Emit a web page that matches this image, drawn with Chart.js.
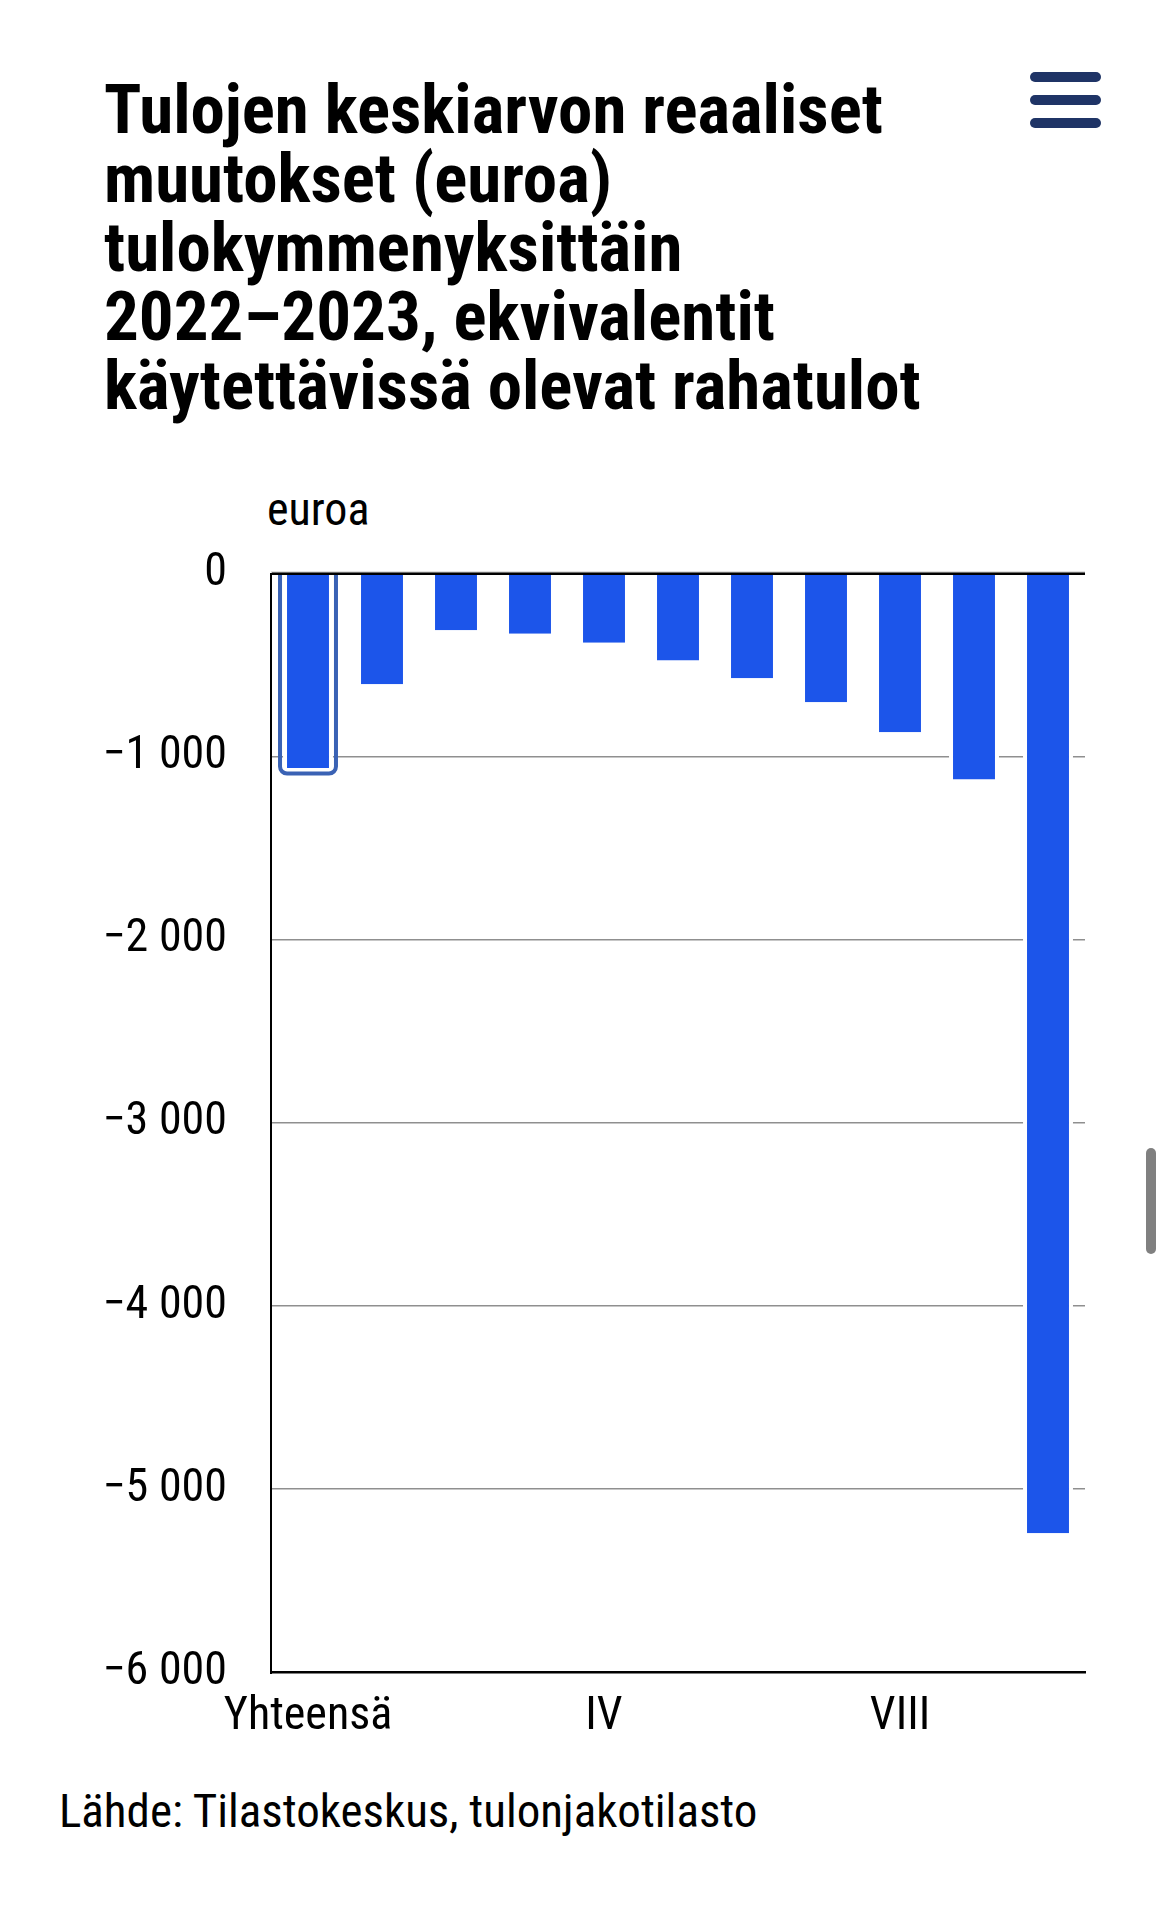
<!DOCTYPE html>
<html lang="fi">
<head>
<meta charset="utf-8">
<script src="https://cdn.jsdelivr.net/npm/chart.js@4/dist/chart.umd.min.js"></script>
<style>
  html, body { margin: 0; padding: 0; background: #fff; }
  body { width: 1164px; height: 1916px; position: relative; overflow: hidden; color: #000; }
  .f { font-family: "Roboto Condensed", "DejaVu Sans Condensed", sans-serif; }
  #title { position: absolute; left: 104px; top: 75px; white-space: nowrap; font-size: 69px; line-height: 69px; font-weight: bold; }
  #unit { position: absolute; left: 267px; top: 487px; font-size: 46px; line-height: 44px; }
  #source { position: absolute; left: 59px; top: 1788px; font-size: 47px; line-height: 46px; white-space: nowrap; }
  #menu { position: absolute; left: 1030px; top: 72px; width: 71px; }
  #menu div { height: 10px; border-radius: 5px; background: #1f3466; margin-bottom: 13px; }
  #scroll { position: absolute; left: 1146px; top: 1148px; width: 10px; height: 106px; border-radius: 5px; background: #808080; }
  #wrap { position: absolute; left: 0; top: 501.7px; width: 1164px; height: 1250.3px; }
</style>
</head>
<body>
<div id="title" class="f">Tulojen keskiarvon reaaliset<br>muutokset (euroa)<br>tulokymmenyksittäin<br>2022–2023, ekvivalentit<br>käytettävissä olevat rahatulot</div>
<div id="menu"><div></div><div></div><div></div></div>
<div id="unit" class="f">euroa</div>
<div id="wrap"><canvas id="c"></canvas></div>
<div id="source" class="f">Lähde: Tilastokeskus, tulonjakotilasto</div>
<div id="scroll"></div>
<script>
const categories = ['Yhteensä', 'I', 'II', 'III', 'IV', 'V', 'VI', 'VII', 'VIII', 'IX', 'X'];
const values = [-1062, -604, -310, -328, -377, -474, -572, -702, -866, -1125, -5240];
const yTickValues = [0, -1000, -2000, -3000, -4000, -5000, -6000];
const yTickLabels = ['0', '−1 000', '−2 000', '−3 000', '−4 000', '−5 000', '−6 000'];
const shownCategoryIndexes = [0, 4, 8];
const highlightIndex = 0;

const FONT = '"Roboto Condensed", "DejaVu Sans Condensed", sans-serif';

const highlightPlugin = {
  id: 'highlight',
  afterDatasetsDraw(chart) {
    const ctx = chart.ctx;
    const yScale = chart.scales.y;
    const y0 = yScale.getPixelForValue(0);
    ctx.save();
    ctx.strokeStyle = '#b5b5b5';
    ctx.lineWidth = 1;
    ctx.beginPath();
    ctx.moveTo(chart.chartArea.left, y0 - 1.5);
    ctx.lineTo(chart.chartArea.right, y0 - 1.5);
    ctx.stroke();
    const el = chart.getDatasetMeta(0).data[highlightIndex];
    const half = el.width / 2 - 4 + 7;
    const left = el.x - half, right = el.x + half;
    const bottom = el.y + 5.5;
    const r = 7;
    ctx.strokeStyle = '#3a62b4';
    ctx.lineWidth = 4;
    ctx.beginPath();
    ctx.moveTo(left, el.base);
    ctx.lineTo(left, bottom - r);
    ctx.arcTo(left, bottom, left + r, bottom, r);
    ctx.lineTo(right - r, bottom);
    ctx.arcTo(right, bottom, right, bottom - r, r);
    ctx.lineTo(right, el.base);
    ctx.stroke();
    ctx.restore();
  }
};

new Chart(document.getElementById('c'), {
  type: 'bar',
  data: {
    labels: categories,
    datasets: [{
      data: values,
      backgroundColor: '#1c55ea',
      borderColor: '#ffffff',
      borderWidth: { left: 4, right: 4, top: 0, bottom: 0 },
      borderSkipped: false,
      categoryPercentage: 1,
      barPercentage: 0.675
    }]
  },
  options: {
    responsive: true,
    maintainAspectRatio: false,
    animation: false,
    events: [],
    layout: { padding: { left: 0, right: 79, top: 20.7, bottom: 0 } },
    plugins: { legend: { display: false }, tooltip: { enabled: false }, title: { display: false } },
    scales: {
      x: {
        grid: { display: true, color: 'rgba(0,0,0,0)', drawTicks: false },
        border: { display: true, color: '#000', width: 2.5 },
        ticks: {
          autoSkip: false,
          maxRotation: 0,
          padding: 18,
          color: '#000',
          font: { family: FONT, size: 46 },
          callback: (v, i) => shownCategoryIndexes.includes(i) ? categories[i] : ''
        },
        afterFit: (s) => { s.height = 80; }
      },
      y: {
        min: -6000,
        max: 0,
        afterBuildTicks: (s) => { s.ticks = yTickValues.map(v => ({ value: v })); },
        grid: {
          drawTicks: false,
          color: (c) => c.tick && c.tick.value === 0 ? '#000' : (c.tick && c.tick.value === -6000 ? 'rgba(0,0,0,0)' : '#8f8f8f'),
          lineWidth: (c) => c.tick && c.tick.value === 0 ? 3 : 1.5
        },
        border: { display: true, color: '#000', width: 2 },
        ticks: {
          padding: 44,
          color: '#000',
          font: { family: FONT, size: 46 },
          callback: (v) => yTickLabels[yTickValues.indexOf(v)]
        },
        afterFit: (s) => { s.width = 271; }
      }
    }
  },
  plugins: [highlightPlugin]
});
</script>
</body>
</html>
